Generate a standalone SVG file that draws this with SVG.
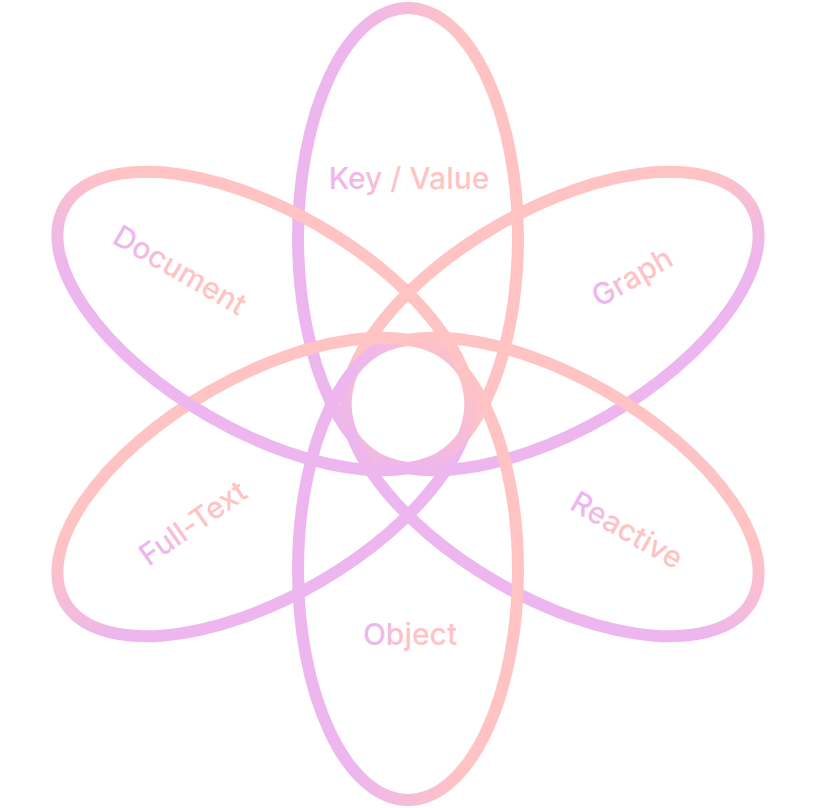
<svg xmlns="http://www.w3.org/2000/svg" width="817" height="808" viewBox="0 0 817 808">
  <defs>
    <linearGradient id="gStroke" x1="0" y1="0" x2="1" y2="0">
      <stop offset="0" stop-color="#EDB6EE"/>
      <stop offset="0.25" stop-color="#EDB6EE"/>
      <stop offset="0.75" stop-color="#FFC3C3"/>
      <stop offset="1" stop-color="#FFC3C3"/>
    </linearGradient>
    <linearGradient id="gText" x1="0" y1="0" x2="1" y2="0">
      <stop offset="0" stop-color="#EDB6EE"/>
      <stop offset="0.12" stop-color="#EDB6EE"/>
      <stop offset="0.45" stop-color="#FFC3C3"/>
      <stop offset="1" stop-color="#FFC3C3"/>
    </linearGradient>
  </defs>
  <style>
    .petal { fill: none; stroke: url(#gStroke); stroke-width: 12; }
    .label { font-family: Inter, "Liberation Sans", sans-serif; font-size: 30px; font-weight: 500; fill: url(#gText); text-anchor: middle; }
  </style>
  <rect width="817" height="808" fill="#FFFFFF"/>
  <g id="petals">
    <g id="keyvalue" transform="translate(408,238)">
      <ellipse class="petal" cx="0" cy="0" rx="110" ry="230"/>
    </g>
    <g id="graph" transform="translate(552,321) rotate(-120)">
      <ellipse class="petal" cx="0" cy="0" rx="110" ry="230"/>
    </g>
    <g id="reactive" transform="translate(552,487) rotate(-60)">
      <ellipse class="petal" cx="0" cy="0" rx="110" ry="230"/>
    </g>
    <g id="object" transform="translate(408,570)">
      <ellipse class="petal" cx="0" cy="0" rx="110" ry="230"/>
    </g>
    <g id="fulltext" transform="translate(264,487) rotate(-120)">
      <ellipse class="petal" cx="0" cy="0" rx="110" ry="230"/>
    </g>
    <g id="document" transform="translate(264,321) rotate(-60)">
      <ellipse class="petal" cx="0" cy="0" rx="110" ry="230"/>
    </g>
  </g>
  <g id="labels">
    <g id="label-keyvalue" transform="translate(409,178)"><text class="label" x="0" y="10.5">Key / Value</text></g>
    <g id="label-graph" transform="translate(632,277) rotate(-30)"><text class="label" x="0" y="10.5">Graph</text></g>
    <g id="label-reactive" transform="translate(627,530) rotate(30)"><text class="label" x="0" y="10.5">Reactive</text></g>
    <g id="label-object" transform="translate(410,634)"><text class="label" x="0" y="10.5">Object</text></g>
    <g id="label-fulltext" transform="translate(193,523) rotate(-35)"><text class="label" x="0" y="10.5">Full-Text</text></g>
    <g id="label-document" transform="translate(180,270) rotate(30)"><text class="label" x="0" y="10.5">Document</text></g>
  </g>
</svg>
